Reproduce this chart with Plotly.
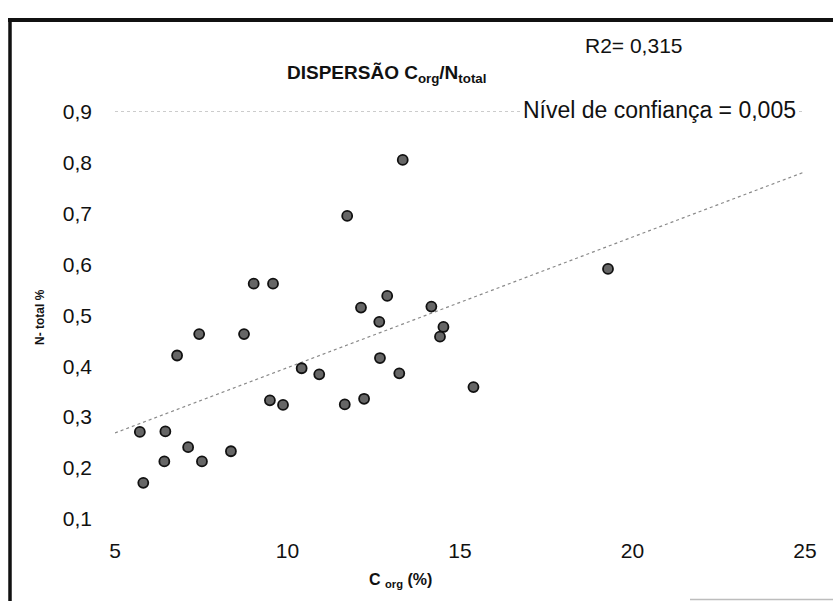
import numpy as np
import plotly.graph_objects as go

# Organic carbon (%) and total nitrogen (%) for each sample
c_org = [13.34, 11.73, 9.02, 9.58, 12.89, 12.13, 14.17, 12.66, 14.52, 14.42,
         7.44, 8.74, 6.80, 10.41, 12.68, 10.92, 13.24, 15.39, 9.49, 9.87,
         11.66, 12.22, 5.72, 6.46, 7.12, 6.43, 7.52, 8.36, 5.82, 19.29]
n_total = [0.805, 0.695, 0.562, 0.562, 0.538, 0.515, 0.517, 0.487, 0.477, 0.458,
           0.463, 0.463, 0.421, 0.396, 0.416, 0.384, 0.386, 0.359, 0.333, 0.324,
           0.325, 0.336, 0.271, 0.272, 0.241, 0.213, 0.213, 0.233, 0.171, 0.591]

x_ticks = [5, 10, 15, 20, 25]
y_ticks = [0.1, 0.2, 0.3, 0.4, 0.5, 0.6, 0.7, 0.8, 0.9]

W, H = 833, 601
FONT = "Liberation Sans, Arial, sans-serif"

# Least-squares trend line across the x range
slope, intercept = np.polyfit(c_org, n_total, 1)
trend_x = np.array([x_ticks[0], x_ticks[-1]], dtype=float)
trend_y = slope * trend_x + intercept

fig = go.Figure()

fig.add_trace(go.Scatter(
    x=trend_x, y=trend_y, mode="lines",
    line=dict(color="#8a8a8a", width=1.2, dash="dot"),
    hoverinfo="skip", showlegend=False,
))

fig.add_trace(go.Scatter(
    x=c_org, y=n_total, mode="markers",
    marker=dict(size=10, color="#666666", line=dict(color="#111111", width=1.8)),
    showlegend=False,
))


def px(x):
    return x / W


def py(y):
    return (H - y) / H


shapes = [
    # dotted top gridline
    dict(type="line", xref="x", yref="y", x0=5, x1=25, y0=0.9, y1=0.9,
         line=dict(color="#9a9a9a", width=1, dash="dot"), layer="below"),
    # chart frame
    dict(type="line", xref="paper", yref="paper", x0=px(8), x1=px(833),
         y0=py(20), y1=py(20), line=dict(color="#111111", width=4)),
    dict(type="line", xref="paper", yref="paper", x0=px(10), x1=px(10),
         y0=py(19), y1=py(601), line=dict(color="#111111", width=3.5)),
    dict(type="line", xref="paper", yref="paper", x0=px(690), x1=px(833),
         y0=py(599.5), y1=py(599.5), line=dict(color="#bdbdbd", width=1.5)),
]

annotations = [
    dict(text="<b>DISPERSÃO C<sub>org</sub>/N<sub>total</sub></b>",
         xref="paper", yref="paper", x=px(386), y=py(74),
         xanchor="center", yanchor="middle", showarrow=False,
         font=dict(family=FONT, size=19, color="#111111")),
    dict(text="R2= 0,315", xref="paper", yref="paper", x=px(583), y=py(45),
         xanchor="left", yanchor="middle", showarrow=False,
         font=dict(family=FONT, size=21, color="#111111")),
    dict(text="Nível de confiança = 0,005", xref="paper", yref="paper",
         x=px(521), y=py(110), xanchor="left", yanchor="middle", showarrow=False,
         bgcolor="white", font=dict(family=FONT, size=23, color="#111111")),
    dict(text="<b>N- total %</b>", xref="paper", yref="paper", x=px(40), y=py(317),
         xanchor="center", yanchor="middle", showarrow=False, textangle=-90,
         font=dict(family=FONT, size=12, color="#111111")),
    dict(text="<b>C <sub>org</sub> (%)</b>", xref="paper", yref="paper",
         x=px(400), y=py(580), xanchor="center", yanchor="middle", showarrow=False,
         font=dict(family=FONT, size=16, color="#111111")),
]

fig.update_layout(
    width=W, height=H,
    margin=dict(l=0, r=0, t=0, b=0),
    paper_bgcolor="white", plot_bgcolor="white",
    separators=",.",
    font=dict(family=FONT, color="#111111"),
    shapes=shapes,
    annotations=annotations,
    xaxis=dict(
        domain=[px(115), px(805)], range=[5, 25],
        tickvals=x_ticks, tickformat="d",
        showgrid=False, zeroline=False, showline=False, ticks="",
        ticklabelstandoff=17, automargin=False,
        tickfont=dict(family=FONT, size=21, color="#111111"),
    ),
    yaxis=dict(
        domain=[py(519), py(111.5)], range=[0.1, 0.9],
        tickvals=y_ticks, tickformat=".1f",
        showgrid=False, zeroline=False, showline=False, ticks="",
        ticklabelstandoff=22, automargin=False,
        tickfont=dict(family=FONT, size=21, color="#111111"),
    ),
)

fig.write_html("out.html")
